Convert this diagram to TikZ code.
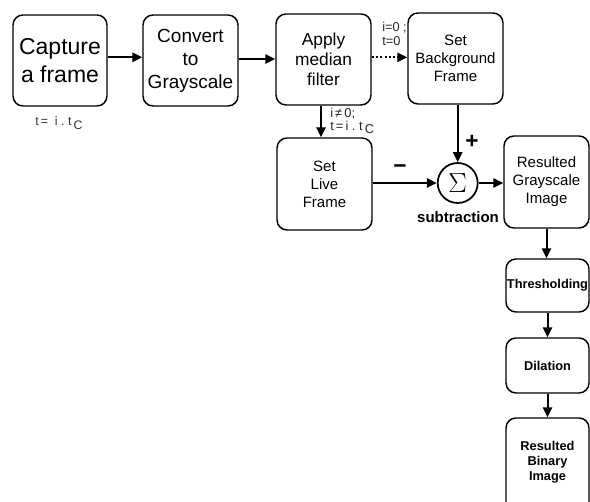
\documentclass[tikz,border=0pt]{standalone}
\usepackage{fontspec}
\setmainfont{Liberation Sans}
\usetikzlibrary{arrows.meta}
\begin{document}
\begin{tikzpicture}[x=0.75pt,y=-0.75pt,
  blockbox/.style={draw,line width=1.1pt,rounded corners=7.5pt,inner sep=0pt,
    align=center,minimum width=#1},
  arr/.style={line width=1.5pt,-{Triangle[length=7.5pt,width=7pt]}},
  dotarr/.style={arr,dash pattern=on 1.6pt off 1.6pt},
  lbl/.style={inner sep=0pt,align=left,anchor=west}]
\useasboundingbox (0,0) rectangle (590,502);

% processing blocks
\node[blockbox=94*0.75pt,minimum height=91*0.75pt,
  font=\fontsize{17.25pt}{21pt}\selectfont] (cap) at (60,60.5) {Capture\\a frame};
\node[blockbox=95*0.75pt,minimum height=91*0.75pt,
  font=\fontsize{14.25pt}{17.25pt}\selectfont] (conv) at (190.5,60.5) {Convert\\to\\Grayscale};
\node[blockbox=95*0.75pt,minimum height=91*0.75pt,
  font=\fontsize{13pt}{15pt}\selectfont] (app) at (323.5,59.5) {Apply\\median\\filter};
\node[blockbox=95*0.75pt,minimum height=91*0.75pt,
  font=\fontsize{11.25pt}{13.5pt}\selectfont] (bg) at (455.5,58.5) {Set\\Background\\Frame};
\node[blockbox=95*0.75pt,minimum height=92*0.75pt,
  font=\fontsize{11.25pt}{13.5pt}\selectfont] (live) at (324.5,184) {Set\\Live\\Frame};
\node[blockbox=85*0.75pt,minimum height=92*0.75pt,
  font=\fontsize{11.25pt}{13.5pt}\selectfont] (gray) at (546.5,182) {Resulted\\Grayscale\\Image};
\node[blockbox=83*0.75pt,minimum height=53*0.75pt,
  font=\bfseries\fontsize{9.6pt}{11.5pt}\selectfont] (thr) at (547.5,285.5) {Thresholding};
\node[blockbox=83*0.75pt,minimum height=55*0.75pt,
  font=\bfseries\fontsize{9.6pt}{11.5pt}\selectfont] (dil) at (547.5,365.5) {Dilation};
% last block runs past the lower edge of the page
\node[blockbox=83*0.75pt,minimum height=130*0.75pt] (bin) at (547.5,483) {};
\node[inner sep=0pt,align=center,
  font=\bfseries\fontsize{9.6pt}{11.25pt}\selectfont] (bintext) at (547.5,462) {Resulted\\Binary\\Image};

% summing junction
\node[draw,circle,line width=1.3pt,minimum size=40*0.75pt,inner sep=0pt,
  font=\fontsize{21pt}{21pt}\selectfont] (sig) at (457.7,183) {$\Sigma$};
\node[font=\bfseries\fontsize{11.25pt}{12pt}\selectfont,inner sep=0pt] (sub) at (458,217) {subtraction};

% connectors
\draw[arr] ([yshift=2.4pt]cap.east) -- ([yshift=2.4pt]cap.east -| conv.west);
\draw[arr] ([yshift=1.1pt]conv.east) -- ([yshift=1.1pt]conv.east -| app.west);
\draw[dotarr] ([yshift=1.6pt]app.east) -- ([yshift=1.6pt]app.east -| bg.west);
\draw[arr] ([xshift=-1.9pt]app.south) -- ([xshift=-1.9pt]app.south |- live.north);
\draw[arr] (sig.north |- bg.south) -- (sig.north);
\draw[arr] (live.east |- sig.west) -- (sig.west);
\draw[arr] (sig.east) -- (sig.east -| gray.west);
\draw[arr] (gray.south) -- (gray.south |- thr.north);
\draw[arr] (thr.south) -- (dil.north);
\draw[arr] (dil.south) -- (bin.north);

% labels
\node[lbl,font=\fontsize{9.3pt}{10pt}\selectfont,text=black!80] (tcap) at (35,123)
  {t\,=~~i~.~t\,\raisebox{-3pt}{C}};
\node[lbl,font=\fontsize{9.6pt}{10.5pt}\selectfont,text=black!85] (cond0) at (382,34)
  {i=0~;\\t=0};
\node[lbl,font=\fontsize{9.6pt}{9.3pt}\selectfont,text=black!85] (condi) at (330,121)
  {i\,≠\,0;\\t\,=\,i~.~t\,\raisebox{-2.5pt}{C}};
\node[inner sep=0pt,font=\bfseries\fontsize{17pt}{17pt}\selectfont] (plus) at (472,142) {+};
\node[inner sep=0pt,font=\bfseries\fontsize{17pt}{17pt}\selectfont] (minus) at (400,169) {−};
\end{tikzpicture}
\end{document}
